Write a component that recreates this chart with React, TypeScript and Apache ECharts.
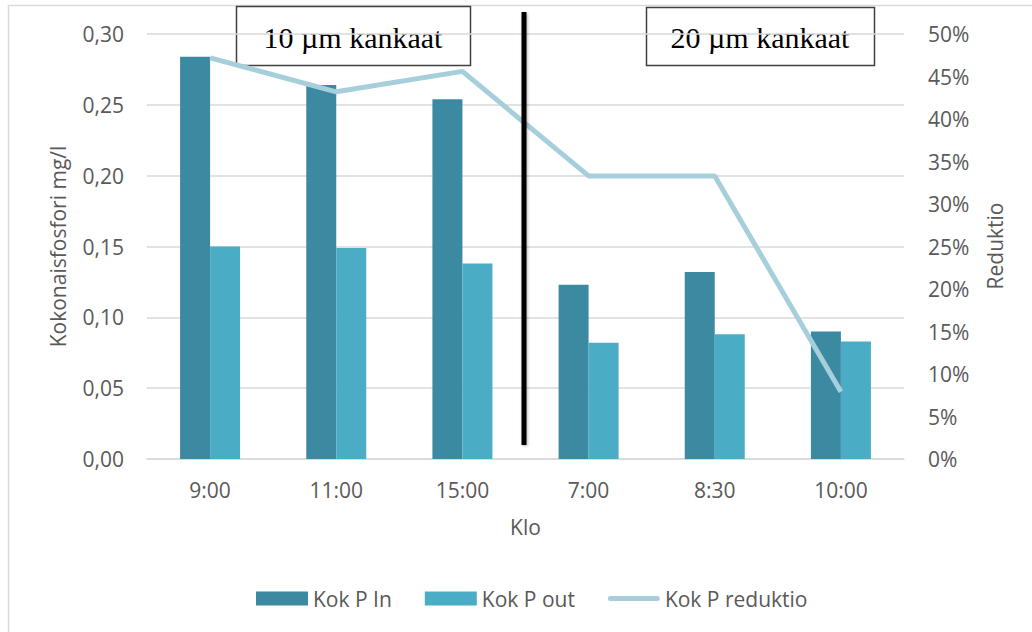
import React, { useEffect, useRef } from "react";
import * as echarts from "echarts";

// Sample times and measured total phosphorus (mg/l) before/after filtering
const categories = ["9:00", "11:00", "15:00", "7:00", "8:30", "10:00"];
const kokPIn = [0.284, 0.264, 0.254, 0.123, 0.132, 0.090];
const kokPOut = [0.150, 0.149, 0.138, 0.082, 0.088, 0.083];
// Reduction in percent
const kokPReduktio = [47.2, 43.2, 45.6, 33.3, 33.3, 7.9];

const leftTicks = { min: 0, max: 0.3, interval: 0.05 };
const rightTicks = { min: 0, max: 50, interval: 5 };

const seriesNames = ["Kok P In", "Kok P out", "Kok P reduktio"];
const fabricLabels = ["10 µm kankaat", "20 µm kankaat"];
const rightAxisTitle = "Reduktio";

const FONT = "'Open Sans', sans-serif";
const TEXT = "#595959";
const GRID = "#D9D9D9";
const LINE_COLOR = "#A7CEDB";

export default function App() {
  const ref = useRef<HTMLDivElement>(null);

  useEffect(() => {
    document.body.style.margin = "0";
    if (!ref.current) return;
    const chart = echarts.init(ref.current, null, { renderer: "svg" });

    const boxText = {
      fontFamily: "'Liberation Serif', 'Times New Roman', serif",
      fontSize: 30,
      fill: "#000",
      align: "center",
      verticalAlign: "middle",
    };

    chart.setOption({
      animation: false,
      backgroundColor: "#fff",
      textStyle: { fontFamily: FONT },
      grid: { left: 147, right: 128, top: 34, bottom: 173 },
      legend: {
        left: 251,
        top: 583,
        itemWidth: 52,
        itemHeight: 14,
        itemGap: 33,
        textStyle: { fontSize: 21, color: TEXT, fontFamily: FONT },
        data: [
          { name: seriesNames[0], icon: "rect" },
          { name: seriesNames[1], icon: "rect" },
          { name: seriesNames[2], icon: "path://M2.5,0h47a2.5,2.5 0 0 1 0,5h-47a2.5,2.5 0 0 1 0,-5z" },
        ],
      },
      xAxis: {
        type: "category",
        data: categories,
        name: "Klo",
        nameLocation: "middle",
        nameGap: 57,
        nameTextStyle: { fontSize: 21, color: TEXT },
        axisLine: { lineStyle: { color: GRID, width: 1.5 } },
        axisTick: { show: false },
        axisLabel: { fontSize: 21, color: TEXT, margin: 20 },
      },
      yAxis: [
        {
          type: "value",
          ...leftTicks,
          name: "Kokonaisfosfori mg/l",
          nameLocation: "middle",
          nameGap: 79,
          nameRotate: 90,
          nameTextStyle: { fontSize: 21, color: TEXT },
          axisLine: { show: false },
          axisTick: { show: false },
          axisLabel: {
            fontSize: 21,
            color: TEXT,
            margin: 23,
            formatter: (v: number) => v.toFixed(2).replace(".", ","),
          },
          splitLine: { lineStyle: { color: GRID, width: 1.5 } },
        },
        {
          type: "value",
          ...rightTicks,
          axisLine: { show: false },
          axisTick: { show: false },
          axisLabel: {
            fontSize: 21,
            color: TEXT,
            margin: 24,
            formatter: (v: number) => `${Math.round(v)}%`,
          },
          splitLine: { show: false },
        },
      ],
      series: [
        {
          name: seriesNames[0],
          type: "bar",
          data: kokPIn,
          barWidth: 30,
          barGap: "0%",
          itemStyle: { color: "#3C8AA2" },
        },
        {
          name: seriesNames[1],
          type: "bar",
          data: kokPOut,
          barWidth: 30,
          itemStyle: { color: "#4BACC6" },
        },
        {
          name: seriesNames[2],
          type: "line",
          yAxisIndex: 1,
          data: kokPReduktio,
          symbol: "none",
          z: 5,
          lineStyle: { color: LINE_COLOR, width: 5 },
          itemStyle: { color: LINE_COLOR },
        },
      ],
      graphic: [
        {
          type: "rect",
          z: 0,
          silent: true,
          shape: { x: 8.5, y: 5.5, width: 1100, height: 700 },
          style: { fill: "none", stroke: GRID, lineWidth: 1.5 },
        },
        // right axis title, reading bottom to top
        {
          type: "text",
          x: 995,
          y: 246,
          rotation: Math.PI / 2,
          style: {
            text: rightAxisTitle,
            fontFamily: FONT,
            fontSize: 21,
            fill: TEXT,
            align: "center",
            verticalAlign: "middle",
          },
        },
        // divider between the two fabric runs
        {
          type: "rect",
          z: 100,
          shape: { x: 521.5, y: 12, width: 5, height: 433 },
          style: {
            fill: "#000",
            shadowBlur: 3,
            shadowColor: "rgba(0,0,0,0.3)",
            shadowOffsetX: 1,
            shadowOffsetY: 1,
          },
        },
        {
          type: "group",
          z: 100,
          children: [
            {
              type: "rect",
              shape: { x: 236.5, y: 6.5, width: 234, height: 59 },
              style: { fill: "#fff", stroke: "#404040", lineWidth: 1.5 },
            },
            {
              type: "text",
              x: 353,
              y: 37,
              style: { text: fabricLabels[0], ...boxText },
            },
          ],
        },
        {
          type: "group",
          z: 100,
          children: [
            {
              type: "rect",
              shape: { x: 646.5, y: 7.5, width: 228, height: 58 },
              style: { fill: "#fff", stroke: "#404040", lineWidth: 1.5 },
            },
            {
              type: "text",
              x: 760,
              y: 37,
              style: { text: fabricLabels[1], ...boxText },
            },
          ],
        },
      ],
    });

    return () => chart.dispose();
  }, []);

  return <div ref={ref} style={{ width: 1032, height: 632 }} />;
}
